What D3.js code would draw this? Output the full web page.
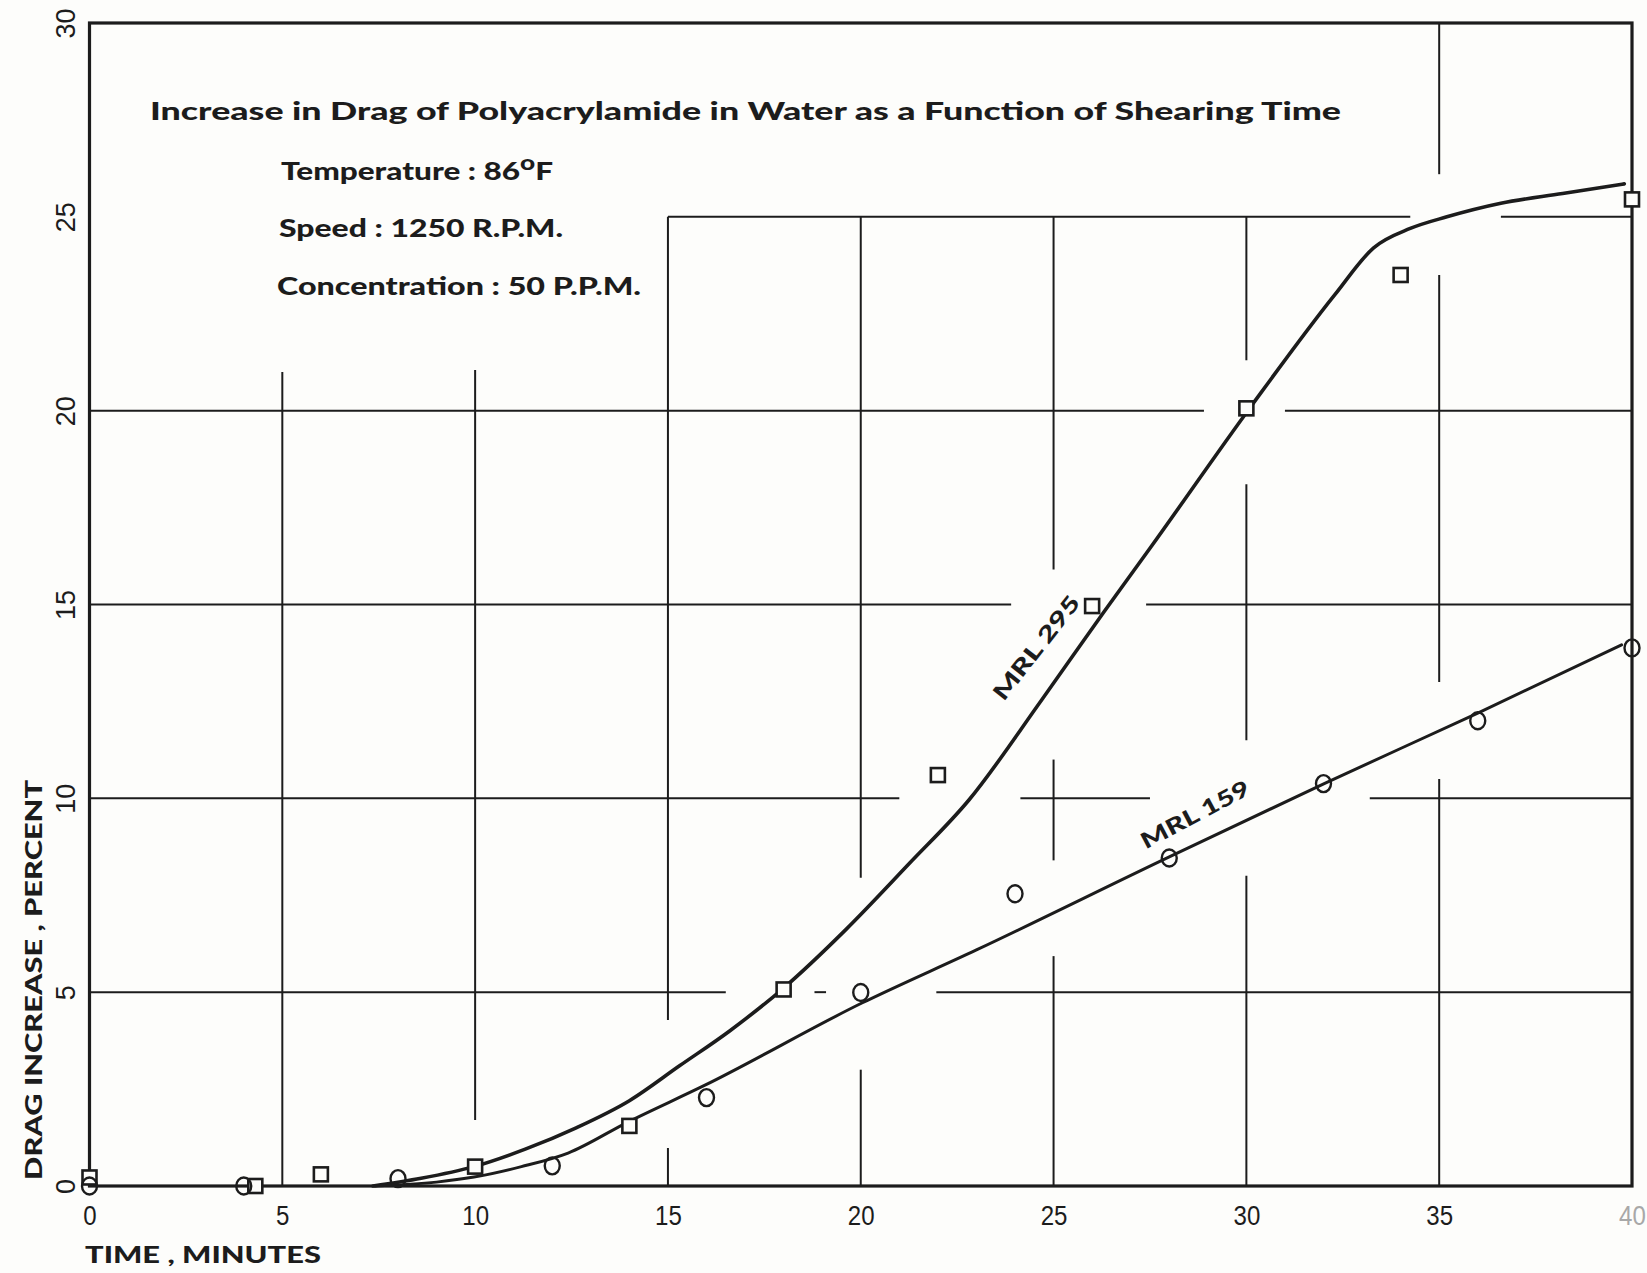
<!DOCTYPE html>
<html>
<head>
<meta charset="utf-8">
<script src="https://cdn.jsdelivr.net/npm/d3@7"></script>
<style>
  html, body { margin: 0; padding: 0; background: #fdfdfb; }
  svg { display: block; }
</style>
</head>
<body>
<svg id="chart" width="1647" height="1273"></svg>
<script>
// ---- data ----
const xTicks = [0, 5, 10, 15, 20, 25, 30, 35, 40];
const yTicks = [0, 5, 10, 15, 20, 25, 30];

// MRL 295 measured points (squares)
const mrl295Time = [0, 4.3, 6, 10, 14, 18, 22, 26, 30, 34, 40];
const mrl295Drag = [0.22, 0, 0.3, 0.5, 1.55, 5.07, 10.6, 14.96, 20.06, 23.5, 25.45];

// MRL 159 measured points (circles)
const mrl159Time = [0, 4, 8, 12, 16, 20, 24, 28, 32, 36, 40];
const mrl159Drag = [0, 0, 0.19, 0.52, 2.28, 4.99, 7.54, 8.46, 10.38, 12.0, 13.88];

// hand drawn fitted curves
const curve295Time = [7.35, 8.6, 9.97, 11.3, 12.62, 14.0, 15.3, 16.6, 17.97, 19.6, 21.27, 22.8, 24.7, 26.3, 27.5, 30.09, 32.3, 33.3, 34.25, 35.2, 36.6, 38.2, 39.8];
const curve295Drag = [0, 0.2, 0.5, 0.95, 1.5, 2.2, 3.1, 4.0, 5.08, 6.6, 8.33, 9.95, 12.55, 14.8, 16.45, 20.07, 23.0, 24.2, 24.7, 25.0, 25.35, 25.6, 25.85];

const curve159Time = [7.4, 9.0, 9.97, 11.2, 12.41, 13.96, 15.96, 20.03, 23.0, 28.0, 32.06, 36.0, 39.73];
const curve159Drag = [0, 0.1, 0.23, 0.5, 0.85, 1.65, 2.6, 4.72, 6.09, 8.49, 10.4, 12.2, 13.96];

// broken grid lines of the original paper (data units)
const hGridY    = [5, 5, 5, 10, 10, 10, 15, 15, 20, 20, 25, 25];
const hGridFrom = [0, 18.8, 21.96, 0, 24.14, 33.2, 0, 27.4, 0, 31.0, 15, 36.6];
const hGridTo   = [16.5, 19.1, 40, 21.0, 27.5, 40, 23.9, 40, 28.9, 40, 34.25, 40];

const vGridX    = [5, 10, 15, 15, 20, 20, 25, 25, 25, 30, 30, 30, 35, 35, 35];
const vGridFrom = [0, 1.7, 0, 4.28, 0, 7.95, 0, 8.4, 15.9, 0, 11.5, 21.3, 0, 13.0, 26.1];
const vGridTo   = [21.0, 21.05, 0.98, 25, 3.0, 25, 5.93, 11.0, 25, 8.0, 18.1, 25, 10.5, 23.5, 30];

const titleText = "Increase in Drag of  Polyacrylamide  in Water  as a  Function of  Shearing Time";
const speedText = "Speed : 1250 R.P.M.";
const concText = "Concentration : 50 P.P.M.";
const xLabel = "TIME , MINUTES";
const yLabel = "DRAG INCREASE , PERCENT";

const ink = "#1c1c1c";
const boldFont = "Lato, 'Open Sans', sans-serif";
const numFont = "'Liberation Sans', Arial, sans-serif";

function drawChart() {
  const svg = d3.select("#chart");

  const x = d3.scaleLinear().domain([0, 40]).range([89.5, 1632]);
  const y = d3.scaleLinear().domain([0, 30]).range([1186, 23]);

  svg.append("rect")
    .attr("width", 1647).attr("height", 1273)
    .attr("fill", "#fdfdfb");

  // grid
  const grid = svg.append("g").attr("stroke", ink).attr("stroke-width", 2);
  hGridY.forEach((v, i) => {
    grid.append("line")
      .attr("x1", x(hGridFrom[i])).attr("x2", x(hGridTo[i]))
      .attr("y1", y(v)).attr("y2", y(v));
  });
  vGridX.forEach((v, i) => {
    grid.append("line")
      .attr("x1", x(v)).attr("x2", x(v))
      .attr("y1", y(vGridFrom[i])).attr("y2", y(vGridTo[i]));
  });

  // frame
  svg.append("rect")
    .attr("x", x(0)).attr("y", y(30))
    .attr("width", x(40) - x(0)).attr("height", y(0) - y(30))
    .attr("fill", "none").attr("stroke", ink).attr("stroke-width", 3.2);

  // tick labels with d3 axes
  const xAxis = svg.append("g")
    .attr("transform", `translate(0,${y(0)})`)
    .call(d3.axisBottom(x).tickValues(xTicks).tickSize(0).tickPadding(19).tickFormat(d3.format("d")));
  xAxis.select(".domain").remove();
  xAxis.selectAll("text")
    .attr("font-family", numFont)
    .attr("font-size", 28)
    .attr("fill", d => d === 40 ? "#a8a8a8" : ink)
    .attr("x", 0)
    .attr("transform", "scale(0.86,1)")
    .attr("dy", "0.71em");

  const yAxis = svg.append("g")
    .attr("transform", `translate(${x(0)},0)`)
    .call(d3.axisLeft(y).tickValues(yTicks).tickSize(0).tickFormat(d3.format("d")));
  yAxis.select(".domain").remove();
  yAxis.selectAll("text")
    .attr("x", 0).attr("dy", null)
    .attr("text-anchor", "middle")
    .attr("dominant-baseline", "central")
    .attr("font-family", numFont)
    .attr("font-size", 27)
    .attr("fill", ink)
    .attr("transform", "translate(-24,0) rotate(-90)");

  // axis titles
  svg.append("text")
    .attr("x", 85).attr("y", 1263)
    .attr("font-family", boldFont).attr("font-weight", 900)
    .attr("font-size", 22).attr("fill", ink)
    .attr("textLength", 236).attr("lengthAdjust", "spacingAndGlyphs")
    .text(xLabel);

  svg.append("text")
    .attr("transform", "translate(42,1180) rotate(-90)")
    .attr("font-family", boldFont).attr("font-weight", 900)
    .attr("font-size", 22).attr("fill", ink)
    .attr("textLength", 400).attr("lengthAdjust", "spacingAndGlyphs")
    .text(yLabel);

  // title block
  const tb = svg.append("g")
    .attr("font-family", boldFont).attr("font-weight", 900)
    .attr("font-size", 24).attr("fill", ink);
  tb.append("text").attr("x", 150).attr("y", 120)
    .attr("textLength", 1191).attr("lengthAdjust", "spacingAndGlyphs")
    .text(titleText);
  const temp = tb.append("text").attr("x", 281).attr("y", 180)
    .attr("textLength", 272).attr("lengthAdjust", "spacingAndGlyphs");
  temp.append("tspan").text("Temperature : 86");
  temp.append("tspan").attr("dy", -10).attr("font-size", 20).text("o");
  temp.append("tspan").attr("dy", 10).text("F");
  tb.append("text").attr("x", 279).attr("y", 237)
    .attr("textLength", 284).attr("lengthAdjust", "spacingAndGlyphs")
    .text(speedText);
  tb.append("text").attr("x", 277).attr("y", 295)
    .attr("textLength", 364).attr("lengthAdjust", "spacingAndGlyphs")
    .text(concText);

  // fitted curves
  const line = d3.line()
    .x(d => x(d[0])).y(d => y(d[1]))
    .curve(d3.curveMonotoneX);

  svg.append("path")
    .datum(curve295Time.map((t, i) => [t, curve295Drag[i]]))
    .attr("d", line)
    .attr("fill", "none").attr("stroke", ink)
    .attr("stroke-width", 3.6).attr("stroke-linecap", "round");

  svg.append("path")
    .datum(curve159Time.map((t, i) => [t, curve159Drag[i]]))
    .attr("d", line)
    .attr("fill", "none").attr("stroke", ink)
    .attr("stroke-width", 3).attr("stroke-linecap", "round");

  // markers
  svg.append("g").selectAll("rect")
    .data(mrl295Time.map((t, i) => [t, mrl295Drag[i]]))
    .join("rect")
    .attr("x", d => x(d[0]) - 7).attr("y", d => y(d[1]) - 7)
    .attr("width", 14).attr("height", 14)
    .attr("fill", "#fdfdfb").attr("stroke", ink).attr("stroke-width", 2.6);

  svg.append("g").selectAll("ellipse")
    .data(mrl159Time.map((t, i) => [t, mrl159Drag[i]]))
    .join("ellipse")
    .attr("cx", d => x(d[0])).attr("cy", d => y(d[1]))
    .attr("rx", 7.5).attr("ry", 8.5)
    .attr("fill", "none").attr("stroke", ink).attr("stroke-width", 2.4);

  // curve labels
  svg.append("text")
    .attr("transform", `translate(${x(24.54)},${y(13.9)}) rotate(-52)`)
    .attr("text-anchor", "middle").attr("dominant-baseline", "central")
    .attr("font-family", boldFont).attr("font-weight", 900)
    .attr("font-size", 22).attr("fill", ink)
    .attr("textLength", 126).attr("lengthAdjust", "spacingAndGlyphs")
    .text("MRL 295");

  svg.append("text")
    .attr("transform", `translate(${x(28.66)},${y(9.6)}) rotate(-28)`)
    .attr("text-anchor", "middle").attr("dominant-baseline", "central")
    .attr("font-family", boldFont).attr("font-weight", 900)
    .attr("font-size", 22).attr("fill", ink)
    .attr("textLength", 120).attr("lengthAdjust", "spacingAndGlyphs")
    .text("MRL 159");
}

drawChart();
</script>
</body>
</html>
